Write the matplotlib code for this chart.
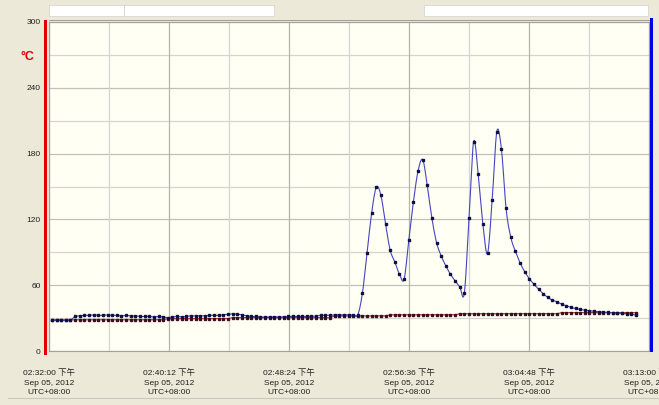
import numpy as np
import matplotlib.pyplot as plt
from matplotlib.patches import Rectangle
from matplotlib.lines import Line2D

# time axis: seconds after 02:32:00, one sample every 19 s starting at +12 s
t_start = 12
t_step = 19

blue_vals = [
    28, 28, 28, 28, 28, 31.5, 32, 32.5, 32.5, 33,
    32.5, 32.5, 33, 32.5, 32.5, 32, 32.5, 32, 32, 31.5,
    31.5, 31.5, 31, 31.5, 31, 30.5, 31, 31.5, 31, 31.5,
    32, 32, 32, 32, 32.5, 32.5, 32.5, 33, 33.5, 34,
    33.5, 33, 32, 31.5, 31.5, 31, 31, 31, 31, 31,
    31, 31.5, 31.5, 31.5, 31.5, 31.5, 31.5, 32, 32.5, 32.5,
    32.5, 33, 33, 33, 33, 33, 33, 52.7, 89.7, 126,
    149.4, 141.8, 115.5, 91.8, 81.2, 70, 65.5, 101, 136, 164,
    174.5, 151, 121, 98.8, 86.7, 77.6, 70, 64, 58.5, 53,
    121.5, 191, 161, 115.5, 89, 137.6, 200, 184, 130, 104,
    91, 80.6, 72.4, 66, 61, 56.4, 52.4, 48.8, 46.4, 44.8,
    42.7, 41.2, 39.7, 38.8, 37.9, 37.3, 36.7, 36.2, 35.8, 35.5,
    35.2, 35, 34.6, 34.3, 34, 33.6, 32.7,
]

red_vals = [
    28.5, 28.5, 28.5, 28.5, 28.5, 28.5, 28.5, 28.5, 28.5, 28.5,
    28.5, 28.5, 28.5, 28.5, 28.5, 28.5, 28.5, 28.5, 28.5, 28.5,
    28.5, 28.5, 28.5, 28.5, 28.5, 29.5, 29.5, 29.5, 29.5, 29.5,
    29.5, 29.5, 29.5, 29.5, 29.5, 29.5, 29.5, 29.5, 29.5, 30.5,
    30.5, 30.5, 30.5, 30.5, 30.5, 30.5, 30.5, 30.5, 30.5, 30.5,
    30.5, 30.5, 30.5, 30.5, 30.5, 30.5, 30.5, 30.5, 30.5, 30.5,
    30.5, 32, 32, 32, 32, 32, 32, 32, 32, 32,
    32, 32, 32, 33, 33, 33, 33, 33, 33, 33,
    33, 33, 33, 33, 33, 33, 33, 33, 34, 34,
    34, 34, 34, 34, 34, 34, 34, 34, 34, 34,
    34, 34, 34, 34, 34, 34, 34, 34, 34, 34,
    35, 35, 35, 35, 35, 35, 35, 35, 35, 35,
    35, 35, 35, 35, 35, 35, 35,
]

tick_secs = [0, 492, 984, 1476, 1968, 2460]
tick_times = ['02:32:00', '02:40:12', '02:48:24', '02:56:36', '03:04:48', '03:13:00']
date_text = 'Sep 05, 2012'
tz_text = 'UTC+08:00'
y_ticks = [0, 60, 120, 180, 240, 300]

narrow = ['Liberation Sans Narrow', 'Liberation Sans', 'Noto Sans CJK SC', 'DejaVu Sans']


def catmull_rom(x, y, n=12):
    # smooth line through the samples, like the logger software draws it
    x = np.asarray(x, float)
    y = np.asarray(y, float)
    xp = np.concatenate([[x[0]], x, [x[-1]]])
    yp = np.concatenate([[y[0]], y, [y[-1]]])
    xs, ys = [], []
    s = np.linspace(0, 1, n, endpoint=False)
    for i in range(1, len(xp) - 2):
        for arr, out in ((xp, xs), (yp, ys)):
            p0, p1, p2, p3 = arr[i - 1], arr[i], arr[i + 1], arr[i + 2]
            out.append(0.5 * ((2 * p1) + (-p0 + p2) * s
                              + (2 * p0 - 5 * p1 + 4 * p2 - p3) * s ** 2
                              + (-p0 + 3 * p1 - 3 * p2 + p3) * s ** 3))
    xs.append([x[-1]])
    ys.append([y[-1]])
    return np.concatenate(xs), np.concatenate(ys)


t_blue = t_start + t_step * np.arange(len(blue_vals))
t_red = t_start + t_step * np.arange(len(red_vals))

W, H = 659, 405
fig = plt.figure(figsize=(W / 100, H / 100), dpi=100)
fig.patch.set_facecolor('#ece9d8')

ax = fig.add_axes([49 / W, 1 - 351 / H, 600 / W, 329 / H])
ax.set_facecolor('#fffff4')
ax.set_xlim(0, 2460)
ax.set_ylim(0, 300)

# grid
for v in range(0, 301, 30):
    ax.axhline(v, color='#c0c0b8' if v % 60 == 0 else '#d6d6ce', lw=0.9, zorder=1)
for s in range(0, 2461, 246):
    ax.axvline(s, color='#b4b4ac' if s % 492 == 0 else '#d6d6ce', lw=0.9, zorder=1)

rx, ry = catmull_rom(t_red, red_vals)
ax.plot(rx, ry, color='#c83030', lw=0.8, zorder=3)
ax.plot(t_red, red_vals, ls='none', marker='s', ms=1.7, color='#3a1020', zorder=4)

bx, by = catmull_rom(t_blue, blue_vals)
ax.plot(bx, by, color='#4545c0', lw=0.8, zorder=5)
ax.plot(t_blue, blue_vals, ls='none', marker='s', ms=1.7, color='#101040', zorder=6)

ax.set_yticks(y_ticks)
ax.set_yticklabels([str(v) for v in y_ticks], family=narrow, fontsize=6, color='#202020')
ax.set_xticks(tick_secs)
ax.set_xticklabels([f'{t} 下午\n{date_text}\n{tz_text}' for t in tick_times],
                   family=narrow, fontsize=6, color='#202020', linespacing=1.5)
ax.tick_params(axis='x', length=0, pad=13)
ax.tick_params(axis='y', length=0, pad=6)
for sp in ax.spines.values():
    sp.set_color('#a0a0a0')
    sp.set_linewidth(0.8)

# axis colour bars and unit label
fig.add_artist(Rectangle((44 / W, 1 - 355 / H), 3 / W, 335 / H, transform=fig.transFigure,
                         facecolor='#e00000', edgecolor='none'))
fig.add_artist(Rectangle((650 / W, 1 - 352 / H), 3 / W, 334 / H, transform=fig.transFigure,
                         facecolor='#0000e0', edgecolor='none'))
fig.text(27 / W, 1 - 57 / H, '°C', color='#e00000', fontsize=9, fontweight='bold',
         ha='center', va='center', family=['Liberation Sans', 'DejaVu Sans'])

# top strip and bottom status line
for x0, x1 in [(49, 274), (424, 648)]:
    fig.add_artist(Rectangle((x0 / W, 1 - 16 / H), (x1 - x0) / W, 11 / H, transform=fig.transFigure,
                             facecolor='white', edgecolor='#d8d8d0', lw=0.6))
fig.add_artist(Line2D([124 / W, 124 / W], [1 - 16 / H, 1 - 5 / H], transform=fig.transFigure,
                      color='#d0d0c8', lw=0.6))
fig.add_artist(Line2D([49 / W, 649 / W], [1 - 19.5 / H, 1 - 19.5 / H], transform=fig.transFigure,
                      color='#909090', lw=0.6))
fig.add_artist(Line2D([8 / W, 1], [1 - 398 / H, 1 - 398 / H], transform=fig.transFigure,
                      color='#c8c8c0', lw=0.8))

fig.savefig('out.png', dpi=100, facecolor=fig.get_facecolor())
